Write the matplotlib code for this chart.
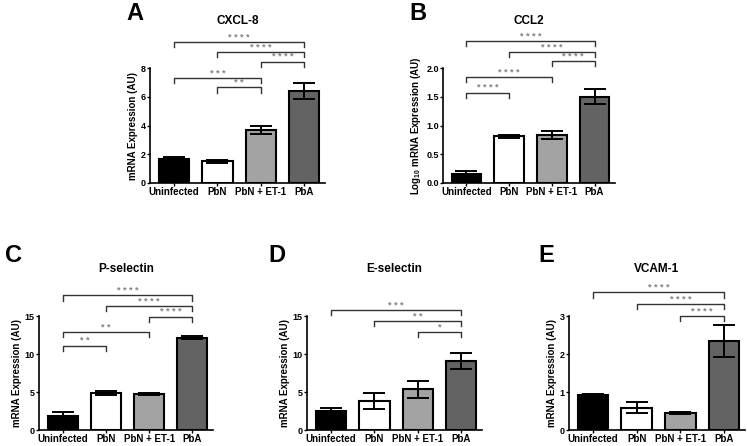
import matplotlib
matplotlib.use("Agg")
import matplotlib.pyplot as plt

plt.rcParams['font.family'] = ['Liberation Sans', 'DejaVu Sans']
plt.rcParams['font.weight'] = 'bold'
plt.rcParams['mathtext.fontset'] = 'custom'
plt.rcParams['mathtext.rm'] = 'Liberation Sans:bold'
plt.rcParams['mathtext.bf'] = 'Liberation Sans:bold'

groups = ['Uninfected', 'PbN', 'PbN + ET-1', 'PbA']
bar_colors = ['#000000', '#ffffff', '#a3a3a3', '#636363']

cxcl8_mean = [1.65, 1.5, 3.68, 6.38]
cxcl8_sem = [0.18, 0.12, 0.27, 0.55]
ccl2_mean = [0.16, 0.81, 0.84, 1.5]
ccl2_sem = [0.05, 0.03, 0.07, 0.13]
psel_mean = [1.8, 4.85, 4.75, 12.15]
psel_sem = [0.55, 0.3, 0.1, 0.2]
esel_mean = [2.45, 3.85, 5.35, 9.1]
esel_sem = [0.5, 1.07, 1.1, 1.05]
vcam_mean = [0.91, 0.59, 0.45, 2.34]
vcam_sem = [0.05, 0.14, 0.03, 0.42]

# (from, to, height, stars)
cxcl8_sig = [(0, 3, 9.8, '****'), (1, 3, 9.1, '****'), (2, 3, 8.45, '****'),
             (0, 2, 7.3, '***'), (1, 2, 6.65, '**')]
ccl2_sig = [(0, 3, 2.47, '****'), (1, 3, 2.28, '****'), (2, 3, 2.12, '****'),
            (0, 2, 1.84, '****'), (0, 1, 1.57, '****')]
psel_sig = [(0, 3, 17.7, '****'), (1, 3, 16.3, '****'), (2, 3, 14.9, '****'),
            (0, 2, 12.9, '**'), (0, 1, 11.1, '**')]
esel_sig = [(0, 3, 15.8, '***'), (1, 3, 14.3, '**'), (2, 3, 12.9, '*')]
vcam_sig = [(0, 3, 3.62, '****'), (1, 3, 3.31, '****'), (2, 3, 3.0, '****')]

W, H = 747, 446
fig = plt.figure(figsize=(W / 100, H / 100), dpi=100)


def px_axes(x0, x1, ytop, ybot):
    return fig.add_axes([x0 / W, 1 - ybot / H, (x1 - x0) / W, (ybot - ytop) / H])


def panel(ax, means, sems, ymax, yticks, ylabel, title, sig, letter, lpos):
    x = range(len(groups))
    ax.bar(x, means, width=0.7, color=bar_colors, edgecolor='black', linewidth=1.5, zorder=2)
    ax.errorbar(x, means, yerr=sems, fmt='none', ecolor='black', elinewidth=1.4,
                capsize=8, capthick=1.4, zorder=3)
    ax.set_xlim(-0.55, 3.48)
    ax.set_ylim(0, ymax)
    ax.set_yticks(yticks)
    ax.set_xticks(list(x))
    ax.set_xticklabels(groups, fontsize=7, fontweight='bold')
    for lab in ax.get_yticklabels():
        lab.set_fontsize(6.5)
        lab.set_fontweight('bold')
    ax.tick_params(axis='both', length=2, width=1, pad=1)
    ax.tick_params(axis='x', pad=1.2)
    ax.set_ylabel(ylabel, fontsize=7, fontweight='bold', labelpad=2)
    for s in ['top', 'right']:
        ax.spines[s].set_visible(False)
    for s in ['left', 'bottom']:
        ax.spines[s].set_linewidth(1.2)
    drop = ymax * 0.045
    for a, b, h, stars in sig:
        ax.plot([a, a, b, b], [h - drop, h, h, h - drop], color='#333333', lw=1,
                clip_on=False, zorder=4)
        ax.text((a + b) / 2, h + ymax * 0.003, ' '.join(stars), ha='center', va='bottom',
                fontsize=6.5, color='#808080', fontweight='bold')
    ax.text(0.5, 1.41, title, transform=ax.transAxes, ha='center', va='center',
            fontsize=8.5, fontweight='bold')
    fig.text(lpos[0] / W, 1 - lpos[1] / H, letter, ha='center', va='center',
             fontsize=17, fontweight='bold')


axA = px_axes(150, 325, 68, 183)
panel(axA, cxcl8_mean, cxcl8_sem, 8, [0, 2, 4, 6, 8], 'mRNA Expression (AU)',
      'CXCL-8', cxcl8_sig, 'A', (135, 14))

axB = px_axes(443, 615, 68, 183)
panel(axB, ccl2_mean, ccl2_sem, 2.0, [0, 0.5, 1.0, 1.5, 2.0],
      r'Log$_{10}$ mRNA Expression (AU)', 'CCL2', ccl2_sig, 'B', (418, 14))
axB.set_yticklabels(['0.0', '0.5', '1.0', '1.5', '2.0'], fontsize=6.5, fontweight='bold')

axC = px_axes(39, 213, 316, 430)
panel(axC, psel_mean, psel_sem, 15, [0, 5, 10, 15], 'mRNA Expression (AU)',
      'P-selectin', psel_sig, 'C', (14, 255))

axD = px_axes(307, 482, 316, 430)
panel(axD, esel_mean, esel_sem, 15, [0, 5, 10, 15], 'mRNA Expression (AU)',
      'E-selectin', esel_sig, 'D', (277, 255))

axE = px_axes(569, 745, 316, 430)
panel(axE, vcam_mean, vcam_sem, 3, [0, 1, 2, 3], 'mRNA Expression (AU)',
      'VCAM-1', vcam_sig, 'E', (546, 255))

fig.savefig('out.png', dpi=100)
